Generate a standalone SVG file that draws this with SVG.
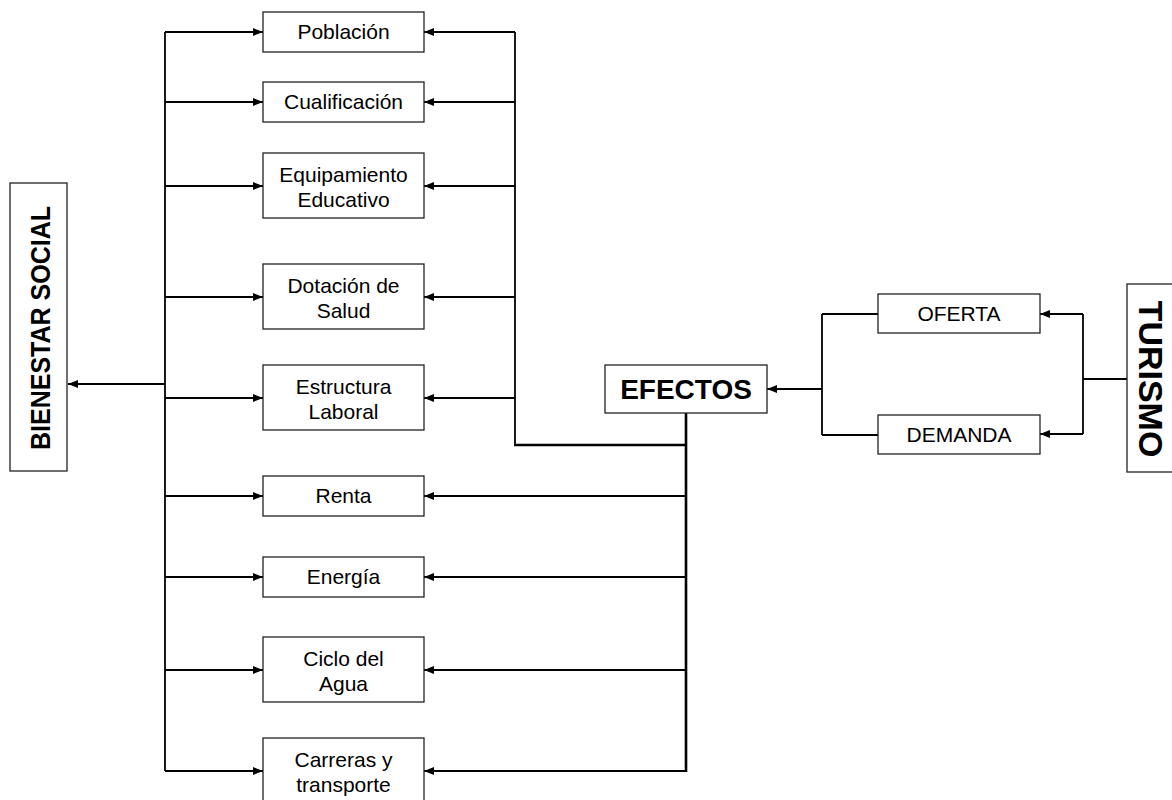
<svg xmlns="http://www.w3.org/2000/svg" width="1172" height="800" viewBox="0 0 1172 800">
<defs>
<marker id="ah" viewBox="0 0 10 8" refX="10" refY="4" markerWidth="10" markerHeight="8" markerUnits="userSpaceOnUse" orient="auto">
<path d="M0,0 L10,4 L0,8 z" fill="#000"/>
</marker>
</defs>
<style>
.box{fill:#fff;stroke:#222;stroke-width:1.3}
.t{font-family:"Liberation Sans",Arial,sans-serif;font-size:21px;fill:#000;text-anchor:middle}
.b{font-family:"Liberation Sans",Arial,sans-serif;font-weight:bold;fill:#000;text-anchor:middle}
.c{fill:none;stroke:#000;stroke-width:1.8}
.ca{fill:none;stroke:#000;stroke-width:1.8;marker-end:url(#ah)}
.thick{fill:none;stroke:#000;stroke-width:2.6}
</style>
<rect width="1172" height="800" fill="#fff"/>
<g id="connectors">
<line class="c" x1="165" y1="32" x2="165" y2="771"/>
<line class="ca" x1="165" y1="384" x2="68" y2="384"/>
<line class="ca" x1="165" y1="32" x2="263" y2="32"/>
<line class="ca" x1="165" y1="102" x2="263" y2="102"/>
<line class="ca" x1="165" y1="186" x2="263" y2="186"/>
<line class="ca" x1="165" y1="297" x2="263" y2="297"/>
<line class="ca" x1="165" y1="398" x2="263" y2="398"/>
<line class="ca" x1="165" y1="496" x2="263" y2="496"/>
<line class="ca" x1="165" y1="577" x2="263" y2="577"/>
<line class="ca" x1="165" y1="670" x2="263" y2="670"/>
<line class="ca" x1="165" y1="771" x2="263" y2="771"/>
<line class="c" x1="515" y1="32" x2="515" y2="445"/>
<line class="ca" x1="515" y1="32" x2="424" y2="32"/>
<line class="ca" x1="515" y1="102" x2="424" y2="102"/>
<line class="ca" x1="515" y1="186" x2="424" y2="186"/>
<line class="ca" x1="515" y1="297" x2="424" y2="297"/>
<line class="ca" x1="515" y1="398" x2="424" y2="398"/>
<line class="thick" x1="514" y1="445" x2="686" y2="445"/>
<line class="thick" x1="686" y1="413" x2="686" y2="772"/>
<line class="ca" x1="686" y1="496" x2="424" y2="496"/>
<line class="ca" x1="686" y1="577" x2="424" y2="577"/>
<line class="ca" x1="686" y1="670" x2="424" y2="670"/>
<line class="ca" x1="686" y1="771" x2="424" y2="771"/>
<line class="c" x1="822" y1="314" x2="822" y2="435"/>
<line class="c" x1="822" y1="314" x2="878" y2="314"/>
<line class="c" x1="822" y1="435" x2="878" y2="435"/>
<line class="ca" x1="822" y1="389" x2="767" y2="389"/>
<line class="c" x1="1083" y1="314" x2="1083" y2="434"/>
<line class="ca" x1="1083" y1="314" x2="1040" y2="314"/>
<line class="ca" x1="1083" y1="434" x2="1040" y2="434"/>
<line class="c" x1="1083" y1="379" x2="1127" y2="379"/>
</g>
<g id="bienestar">
<rect class="box" x="10" y="183" width="57" height="288"/>
<text class="b" font-size="25" transform="translate(50,328) rotate(-90) scale(1,1.1)">BIENESTAR SOCIAL</text>
</g>
<g id="poblacion">
<rect class="box" x="263" y="12" width="161" height="40"/>
<text class="t" x="343.5" y="39">Población</text>
</g>
<g id="cualificacion">
<rect class="box" x="263" y="82" width="161" height="40"/>
<text class="t" x="343.5" y="109">Cualificación</text>
</g>
<g id="equipamiento">
<rect class="box" x="263" y="153" width="161" height="65"/>
<text class="t" x="343.5" y="182">Equipamiento</text>
<text class="t" x="343.5" y="207">Educativo</text>
</g>
<g id="dotacion">
<rect class="box" x="263" y="264" width="161" height="65"/>
<text class="t" x="343.5" y="293">Dotación de</text>
<text class="t" x="343.5" y="318">Salud</text>
</g>
<g id="estructura">
<rect class="box" x="263" y="365" width="161" height="65"/>
<text class="t" x="343.5" y="394">Estructura</text>
<text class="t" x="343.5" y="419">Laboral</text>
</g>
<g id="renta">
<rect class="box" x="263" y="476" width="161" height="40"/>
<text class="t" x="343.5" y="503">Renta</text>
</g>
<g id="energia">
<rect class="box" x="263" y="557" width="161" height="40"/>
<text class="t" x="343.5" y="584">Energía</text>
</g>
<g id="ciclo">
<rect class="box" x="263" y="637" width="161" height="65"/>
<text class="t" x="343.5" y="666">Ciclo del</text>
<text class="t" x="343.5" y="691">Agua</text>
</g>
<g id="carreras">
<rect class="box" x="263" y="738" width="161" height="65"/>
<text class="t" x="343.5" y="767">Carreras y</text>
<text class="t" x="343.5" y="792">transporte</text>
</g>
<g id="efectos">
<rect class="box" x="605" y="365" width="162" height="48"/>
<text class="b" font-size="28" x="686" y="399">EFECTOS</text>
</g>
<g id="oferta">
<rect class="box" x="878" y="294" width="162" height="39"/>
<text class="t" x="959" y="321">OFERTA</text>
</g>
<g id="demanda">
<rect class="box" x="878" y="415" width="162" height="39"/>
<text class="t" x="959" y="442">DEMANDA</text>
</g>
<g id="turismo">
<rect class="box" x="1127" y="284" width="50" height="188"/>
<text class="b" font-size="34" transform="translate(1139,379) rotate(90)">TURISMO</text>
</g>
</svg>
